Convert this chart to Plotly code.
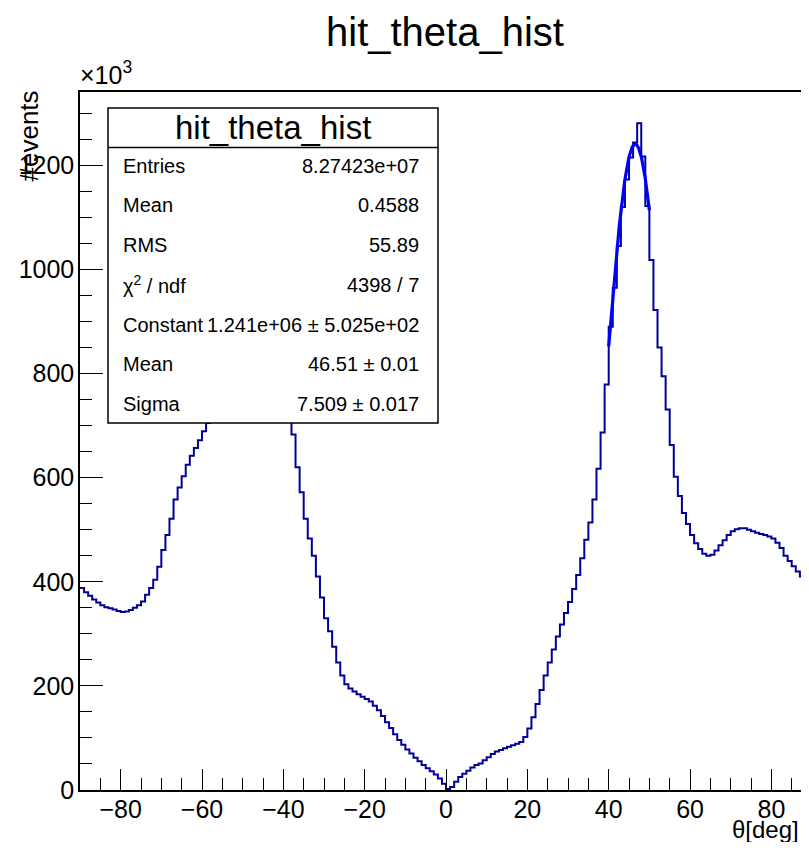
import math
import plotly.graph_objects as go

# ---------------- data (values in units of 10^3 events) ----------------
bin_lo = -90
bin_width = 1
counts_k = [
    388, 380, 373, 366, 360, 355, 351, 349, 347, 344,   # -90 .. -81
    342, 343, 346, 350, 355, 362, 375, 388, 404, 429,   # -80 .. -71
    461, 490, 521, 558, 581, 603, 625, 642, 657, 672,   # -70 .. -61
    689, 705, 718, 730, 742, 755, 768, 780, 790, 798,   # -60 .. -51
    803, 806, 805, 800, 792, 782, 770, 758, 745, 733,   # -50 .. -41
    722, 712, 683, 620, 572, 521, 483, 450, 410, 370,   # -40 .. -31
    330, 305, 275, 245, 220, 203, 195, 189, 184, 179,   # -30 .. -21
    175, 170, 162, 153, 142, 130, 119, 107, 96, 87,     # -20 .. -11
    78, 70, 62, 55, 48, 42, 36, 30, 22, 12,             # -10 .. -1
    2, 6, 16, 25, 31, 37, 43, 48, 51, 57,               # 0 .. 9
    63, 69, 74, 77, 80, 83, 86, 89, 92, 102,            # 10 .. 19
    118, 140, 165, 192, 220, 245, 270, 295, 318, 340,   # 20 .. 29
    361, 386, 413, 445, 481, 514, 558, 617, 687, 779,   # 30 .. 39
    890, 965, 1045, 1120, 1173, 1215, 1244, 1281, 1217, 1122,  # 40 .. 49
    1018, 922, 850, 795, 731, 663, 602, 565, 532, 511,  # 50 .. 59
    490, 474, 463, 454, 450, 452, 460, 470, 480, 490,   # 60 .. 69
    497, 501, 503, 503, 500, 497, 494, 492, 490, 487,   # 70 .. 79
    483, 475, 465, 450, 440, 430, 420, 410, 400, 395,   # 80 .. 89
]

# Gaussian fit parameters from the stats box
fit_constant = 1.241e6
fit_mean = 46.51
fit_sigma = 7.509
fit_range = (40.0, 50.0)

stats_title = "hit_theta_hist"
stats_labels = ["Entries", "Mean", "RMS", "χ<sup>2</sup> / ndf", "Constant", "Mean", "Sigma"]
stats_values = ["8.27423e+07", "0.4588", "55.89", "4398 / 7",
                "1.241e+06 ± 5.025e+02", "46.51 ± 0.01", "7.509 ± 0.017"]

# ---------------- figure ----------------
edges = [bin_lo + i * bin_width for i in range(len(counts_k) + 1)]
hx = edges
hy = counts_k + [counts_k[-1]]

n_fit = 200
fx = [fit_range[0] + (fit_range[1] - fit_range[0]) * i / (n_fit - 1) for i in range(n_fit)]
fy = [fit_constant / 1000.0 * math.exp(-0.5 * ((x - fit_mean) / fit_sigma) ** 2) for x in fx]

FONT = "Liberation Sans, Arial, Helvetica, sans-serif"

fig = go.Figure()
fig.add_trace(go.Scatter(x=hx, y=hy, mode="lines", line=dict(shape="hv", color="#000099", width=2),
                         hoverinfo="skip", showlegend=False))
fig.add_trace(go.Scatter(x=fx, y=fy, mode="lines", line=dict(color="#0000ff", width=3.2),
                         hoverinfo="skip", showlegend=False))

OFF = 8  # page body margin
W, H = 809 - OFF, 850 - 2 * OFF
L, R, T = 80 - OFF, 0, 92 - OFF
B = H - (790 - OFF)
pw, ph = W - L - R, H - T - B


def px2x(px):
    # page pixel -> paper coordinate
    return (px - OFF - L) / pw


def py2y(py):
    return (H - B - (py - OFF)) / ph


fig.update_layout(
    width=W, height=H,
    margin=dict(l=L, r=R, t=T, b=B),
    plot_bgcolor="white", paper_bgcolor="white",
    font=dict(family=FONT, color="black"),
    showlegend=False,
    xaxis=dict(range=[-90, 89.25], showgrid=False, zeroline=False,
               showline=True, linecolor="black", linewidth=1.5, mirror=True,
               ticks="inside", tick0=0, dtick=20, ticklen=21, tickwidth=1.2, tickcolor="black",
               minor=dict(ticks="inside", dtick=5, tick0=0, ticklen=12, tickwidth=1.2, tickcolor="black"),
               tickfont=dict(size=25, family=FONT), ticklabelstandoff=-4),
    yaxis=dict(range=[0, 1341], showgrid=False, zeroline=False,
               showline=True, linecolor="black", linewidth=1.5, mirror=False,
               ticks="inside", tick0=0, dtick=200, ticklen=23, tickwidth=1.2, tickcolor="black",
               minor=dict(ticks="inside", dtick=50, tick0=0, ticklen=12, tickwidth=1.2, tickcolor="black"),
               tickfont=dict(size=25, family=FONT), ticklabelstandoff=-1),
)

# stats box
bx0, bx1, by0, by1 = 108, 438, 108, 423
fig.add_shape(type="rect", xref="paper", yref="paper",
              x0=px2x(bx0), x1=px2x(bx1), y0=py2y(by1), y1=py2y(by0),
              fillcolor="white", line=dict(color="black", width=1.5), layer="above")
fig.add_shape(type="line", xref="paper", yref="paper",
              x0=px2x(bx0), x1=px2x(bx1), y0=py2y(147.5), y1=py2y(147.5),
              line=dict(color="black", width=1.5), layer="above")

ann = []
ann.append(dict(text=stats_title, x=px2x((bx0 + bx1) / 2), y=py2y(127), xref="paper", yref="paper",
                xanchor="center", yanchor="middle", showarrow=False, font=dict(size=33, family=FONT)))
row_y = [166, 205.5, 245, 284.5, 324.5, 364, 404]
for lab, val, ry in zip(stats_labels, stats_values, row_y):
    ann.append(dict(text=lab, x=px2x(121), y=py2y(ry), xref="paper", yref="paper",
                    xanchor="left", yanchor="middle", showarrow=False, font=dict(size=20, family=FONT)))
    ann.append(dict(text=val, x=px2x(421), y=py2y(ry), xref="paper", yref="paper",
                    xanchor="right", yanchor="middle", showarrow=False, font=dict(size=20, family=FONT)))

# main title
ann.append(dict(text="hit_theta_hist", x=px2x(445), y=py2y(32), xref="paper", yref="paper",
                xanchor="center", yanchor="middle", showarrow=False, font=dict(size=40, family=FONT)))
# exponent label
ann.append(dict(text="×10<sup>3</sup>", x=px2x(78), y=py2y(73), xref="paper", yref="paper",
                xanchor="left", yanchor="middle", showarrow=False, font=dict(size=25, family=FONT)))
# y title
ann.append(dict(text="#events", x=px2x(29), y=py2y(89), xref="paper", yref="paper",
                xanchor="center", yanchor="top", textangle=-90, showarrow=False,
                font=dict(size=26, family=FONT)))
# x title (kept inside the visible page area)
ann.append(dict(text="θ[deg]", x=px2x(801), y=py2y(829), xref="paper", yref="paper",
                xanchor="right", yanchor="middle", showarrow=False, font=dict(size=24, family=FONT)))

fig.update_layout(annotations=ann)
fig.write_html("out.html")
